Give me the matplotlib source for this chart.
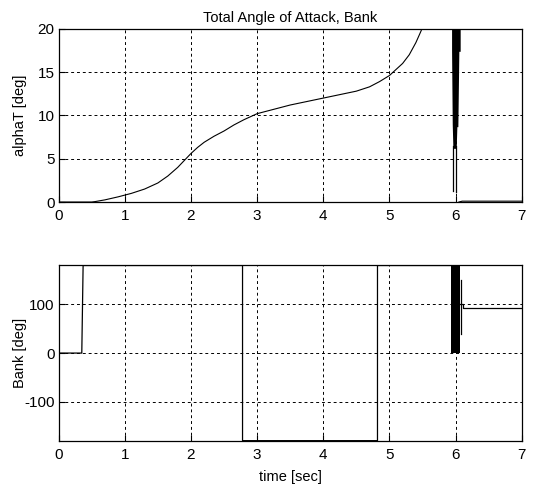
import numpy as np
import matplotlib
matplotlib.use('Agg')
import matplotlib.pyplot as plt

plt.rcParams['font.family'] = ['Liberation Sans Narrow', 'Liberation Sans', 'DejaVu Sans']
plt.rcParams['axes.unicode_minus'] = False

# total angle of attack (deg) vs time (sec)
t_alpha = [0.0, 0.5, 0.55, 0.7, 0.9, 1.1, 1.3, 1.5, 1.65, 1.8, 1.9, 2.0, 2.1,
           2.2, 2.35, 2.5, 2.65, 2.8, 3.0, 3.25, 3.5, 3.75, 4.0, 4.25, 4.5,
           4.7, 4.85, 5.0, 5.1, 5.2, 5.3, 5.4, 5.47, 5.52]
alpha = [0.0, 0.0, 0.05, 0.25, 0.6, 1.0, 1.5, 2.2, 3.0, 4.0, 4.8, 5.6, 6.3,
         6.9, 7.6, 8.2, 8.9, 9.5, 10.2, 10.7, 11.2, 11.6, 12.0, 12.4, 12.8,
         13.3, 13.9, 14.6, 15.3, 16.0, 17.0, 18.4, 19.6, 20.5]
# oscillation band near t = 6
alpha_band_t = [5.94, 5.95, 5.96, 5.985, 6.01, 6.02, 6.035, 6.05, 6.07]
alpha_band_lo = [17.5, 9.0, 6.2, 6.2, 6.2, 8.7, 8.7, 17.4, 17.4]
alpha_spikes_t = [5.955, 6.0]
alpha_spikes_lo = [1.3, 1.2]
t_alpha_end = [6.05, 6.1, 6.5, 7.0]
alpha_end = [0.0, 0.1, 0.1, 0.1]

# bank angle (deg) vs time (sec)
t_bank = [0.0, 0.0, 0.02, 0.35, 0.37, 2.78, 2.78, 4.82, 4.82, 5.93]
bank = [180, 0, 0, 0, 180, 180, -180, -180, 180, 180]
bank_band_t = [5.93, 6.07]
bank_band_lo = [0, 0]
bank_band_hi = [180, 180]
t_bank_spike = [6.09, 6.09]
bank_spike = [40, 150]
t_bank_tail = [6.07, 6.12, 6.12, 7.0]
bank_tail = [100, 100, 92, 92]

fig = plt.figure(figsize=(5.48, 4.88), dpi=100)
ax1 = fig.add_axes([0.107, 0.586, 0.845, 0.355])
ax2 = fig.add_axes([0.107, 0.097, 0.845, 0.359])

# top: alphaT
ax1.plot(t_alpha, alpha, color='k', lw=0.8)
ax1.fill_between(alpha_band_t, alpha_band_lo, 20, color='k', lw=0)
for ts, lo in zip(alpha_spikes_t, alpha_spikes_lo):
    ax1.plot([ts, ts], [lo, 6.5], color='k', lw=0.9)
ax1.plot(t_alpha_end, alpha_end, color='k', lw=0.8)
ax1.set_xlim(0, 7)
ax1.set_ylim(0, 20)
ax1.set_yticks([0, 5, 10, 15, 20])
ax1.set_ylabel('alphaT [deg]', fontsize=10.5)
ax1.set_title('Total Angle of Attack, Bank', fontsize=10.5, pad=5)

# bottom: bank
ax2.plot(t_bank, bank, color='k', lw=0.9)
ax2.fill_between(bank_band_t, bank_band_lo, bank_band_hi, color='k', lw=0)
ax2.plot(t_bank_spike, bank_spike, color='k', lw=0.9)
ax2.plot(t_bank_tail, bank_tail, color='k', lw=0.9)
ax2.set_xlim(0, 7)
ax2.set_ylim(-180, 180)
ax2.set_yticks([-100, 0, 100])
ax2.set_ylabel('Bank [deg]', fontsize=10.5)
ax2.set_xlabel('time [sec]', fontsize=10.5)
ax2.xaxis.set_label_coords(0.5, -0.165)

for ax in (ax1, ax2):
    ax.set_xticks(range(8))
    ax.grid(True, color='k', linestyle=(0, (3, 3)), lw=0.7)
    ax.tick_params(direction='in', length=4, labelsize=11, pad=5)
    ax.tick_params(axis='y', pad=3)
    ax.yaxis.set_label_coords(-0.068, 0.5)
    for s in ax.spines.values():
        s.set_linewidth(0.9)

fig.savefig('out.png', dpi=100)
